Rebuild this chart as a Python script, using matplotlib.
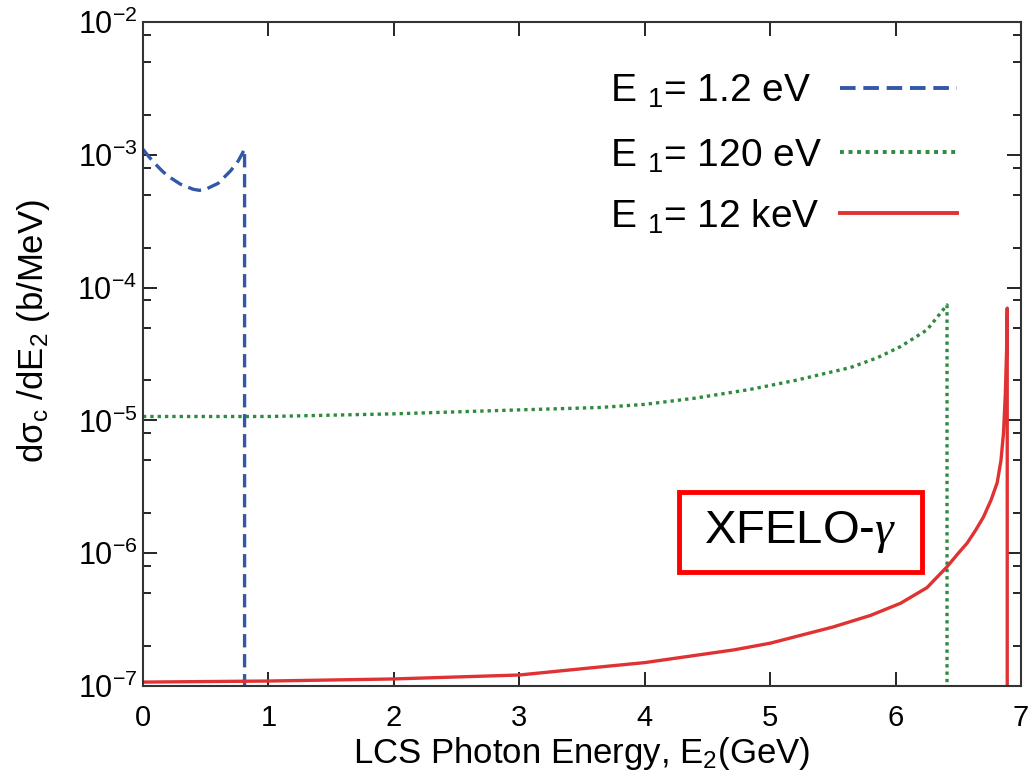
import numpy as np
import matplotlib; matplotlib.use("Agg")
import matplotlib.pyplot as plt
from matplotlib.ticker import LogLocator, NullFormatter
from matplotlib.patches import Rectangle

plt.rcParams.update({"font.family": ["Liberation Sans", "DejaVu Sans"],
                     "mathtext.fontset": "custom",
                     "mathtext.rm": "Liberation Sans",
                     "mathtext.it": "Liberation Serif:italic",
                     "mathtext.default": "rm"})

# E1 = 1.2 eV (Compton edge near 0.81 GeV)
x_ir = [0.0, 0.05, 0.1, 0.15, 0.2, 0.3, 0.4, 0.45, 0.5, 0.6, 0.7, 0.76, 0.81, 0.81]
y_ir = [1.1e-3, 9.6e-4, 8.5e-4, 7.6e-4, 6.9e-4, 6.0e-4, 5.5e-4, 5.4e-4, 5.5e-4, 6.1e-4,
        7.6e-4, 9.0e-4, 1.1e-3, 1e-7]
# E1 = 120 eV
x_uv = [0.0, 1.0, 2.0, 3.0, 3.64, 4.0, 4.4, 4.84, 5.2, 5.64, 5.85, 6.04, 6.25, 6.41, 6.41]
y_uv = [1.07e-5, 1.07e-5, 1.12e-5, 1.2e-5, 1.25e-5, 1.32e-5, 1.47e-5, 1.71e-5, 2.0e-5, 2.5e-5,
        2.95e-5, 3.6e-5, 4.8e-5, 7.4e-5, 1e-7]
# E1 = 12 keV
x_xr = [0.0, 1.0, 2.0, 3.0, 3.64, 4.0, 4.71, 5.0, 5.5, 5.8, 6.04, 6.25, 6.41, 6.5, 6.57, 6.64,
        6.70, 6.76, 6.81, 6.84, 6.86, 6.875, 6.885, 6.89, 6.89]
y_xr = [1.07e-7, 1.09e-7, 1.13e-7, 1.21e-7, 1.39e-7, 1.5e-7, 1.87e-7, 2.1e-7, 2.78e-7, 3.4e-7,
        4.2e-7, 5.5e-7, 7.9e-7, 1.0e-6, 1.19e-6, 1.5e-6, 1.87e-6, 2.5e-6, 3.4e-6, 5e-6, 8e-6,
        1.6e-5, 3.4e-5, 7.0e-5, 1e-7]
labels = ["E $_1$= 1.2 eV", "E $_1$= 120 eV", "E $_1$= 12 keV"]
colors = ["#3358a8", "#2e8b3e", "#e03232"]
styles = [(0, (4, 2)), (0, (1, 1.2)), "-"]

fig = plt.figure(figsize=(10.30, 7.74), dpi=100)
ax = fig.add_axes([0.1388, 0.1137, 0.8525, 0.8579])

for xs, ys, c, ls in zip([x_ir, x_uv, x_xr], [y_ir, y_uv, y_xr], colors, styles):
    ax.plot(xs, ys, color=c, lw=2.4, ls=ls)

ax.set_yscale("log")
ax.set_xlim(0, 7); ax.set_ylim(1e-7, 1e-2)
ax.set_xticks(range(8))
ax.yaxis.set_major_locator(LogLocator(base=10, numticks=10))
ax.yaxis.set_minor_locator(LogLocator(base=10, subs=(0.2, 0.5, 0.8), numticks=10))
ax.yaxis.set_minor_formatter(NullFormatter())
ax.tick_params(which="both", direction="in", top=True, right=True, width=1.2)
ax.tick_params(axis="x", labelsize=21, pad=13)
ax.tick_params(axis="y", labelsize=22, pad=4)
ax.tick_params(which="major", length=10)
ax.tick_params(which="minor", length=6)
for s in ax.spines.values():
    s.set_linewidth(1.5); s.set_color("#333333")

ax.set_xlabel("LCS Photon Energy, E$_2$(GeV)", fontsize=25, labelpad=2)
ax.set_ylabel("dσ$_c$ /dE$_2$ (b/MeV)", fontsize=25)
ax.yaxis.set_label_coords(-0.104, 0.535)

# legend drawn by hand: text left-aligned, sample line to the right
text_y = [0.896, 0.798, 0.706]
line_y = [0.900, 0.804, 0.712]
for lab, c, ls, ty, ly in zip(labels, colors, styles, text_y, line_y):
    ax.text(0.532, ty, lab, transform=ax.transAxes, fontsize=28, ha="left", va="center")
    ax.plot([0.794, 0.927], [ly, ly], transform=ax.transAxes, color=c, lw=2.8, ls=ls)

ax.add_patch(Rectangle((0.61, 0.172), 0.277, 0.12, transform=ax.transAxes, fill=False,
                       edgecolor="#ff0000", lw=3.5, zorder=5))
ax.text(0.7485, 0.232, "XFELO-$\\mathit{\\gamma}$", transform=ax.transAxes, fontsize=34,
        ha="center", va="center", zorder=6)

fig.savefig("out.png", dpi=100)
